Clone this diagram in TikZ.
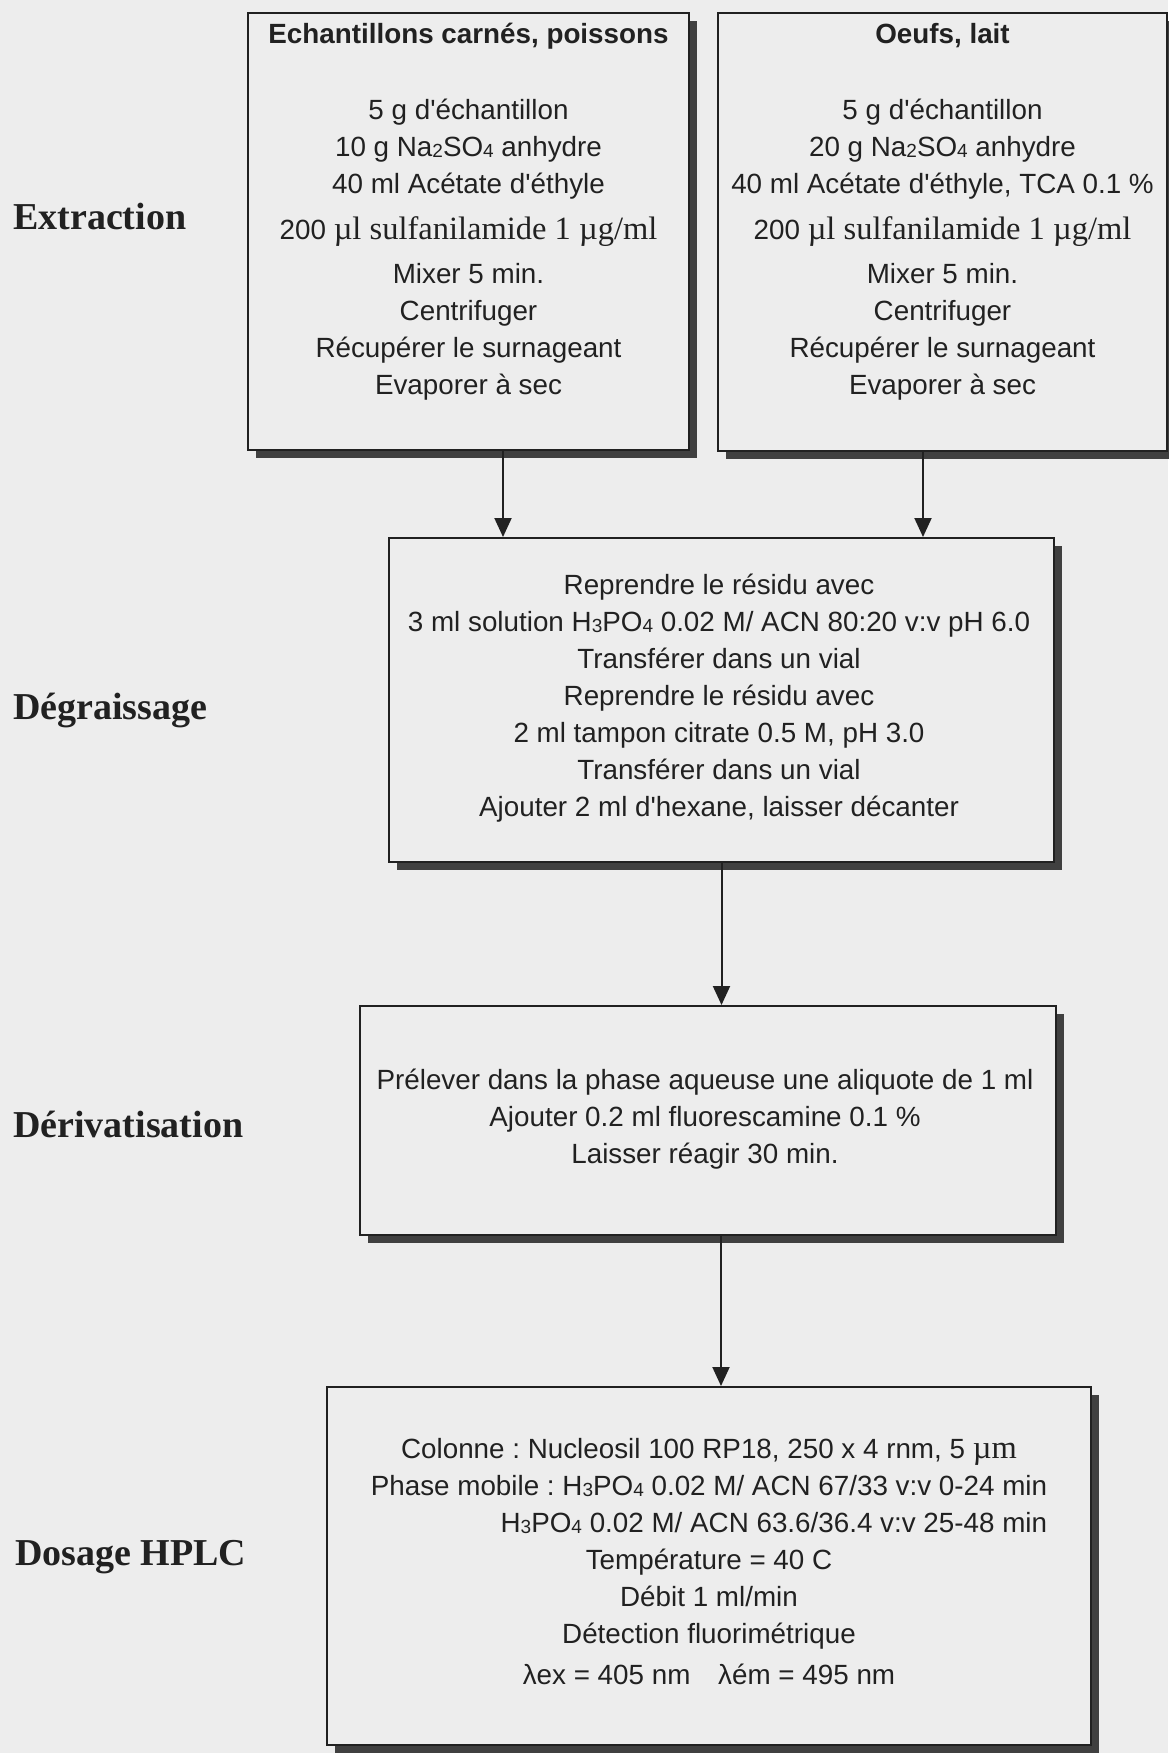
\documentclass[tikz,border=0pt]{standalone}
\usepackage{fontspec}
\usepackage{calc}
\setmainfont{Liberation Sans}
\newfontfamily\tms{Liberation Serif}
\usetikzlibrary{arrows.meta,shadows}
\definecolor{paper}{gray}{0.93}
\definecolor{ink}{gray}{0.13}
\newcommand{\ind}[1]{\raisebox{-1pt}{\fontsize{19}{19}\selectfont #1}}
\newcommand{\sym}[1]{{\tms\fontsize{32.5}{37}\selectfont #1}}
\newcommand{\ap}{\textquotesingle}
\frenchspacing

\begin{document}
\begin{tikzpicture}[x=1pt,y=-1pt,
  box/.style={draw=ink,line width=2pt,fill=paper,
    drop shadow={shadow xshift=8pt,shadow yshift=-8pt,opacity=1,fill=black!75}},
  txt/.style={align=center,inner sep=0pt,text=ink,font=\fontsize{27.8}{37}\selectfont},
  stage/.style={anchor=base west,inner sep=0pt,text=ink,font=\tms\bfseries\fontsize{38}{40}\selectfont},
  arr/.style={draw=ink,line width=2pt,-{Triangle[width=17pt,length=19pt]}}]
\fill [paper] (0,0) rectangle (1168,1753);
\useasboundingbox (0,0) rectangle (1168,1753);

\node [box,minimum width=441pt,minimum height=437pt] (carnes) at (468.5,231.5) {};
\node [box,minimum width=449pt,minimum height=438pt] (oeufs) at (942.5,232) {};
\node [box,minimum width=665pt,minimum height=324pt] (degraiss) at (721.5,700) {};
\node [box,minimum width=696pt,minimum height=229pt] (derivat) at (708,1120.5) {};
\node [box,minimum width=764pt,minimum height=358pt] (dosage) at (709,1566) {};

\node [stage] (lextr) at (13,229) {Extraction};
\node [stage] (ldegr) at (13,719) {Dégraissage};
\node [stage] (lderiv) at (13,1137) {Dérivatisation};
\node [stage] (ldos) at (15,1565) {Dosage HPLC};

\node [txt] (carnestxt) at (468.5,211.5) {{\bfseries Echantillons carnés, poissons}\\[39pt]
5 g d\ap échantillon\\
10 g Na\ind2SO\ind4 anhydre\\
40 ml Acétate d\ap éthyle\\[9pt]
200 \sym{µl sulfanilamide 1 µg/ml}\\[7pt]
Mixer 5 min.\\
Centrifuger\\
Récupérer le surnageant\\
Evaporer à sec};
\node [txt] (oeufstxt) at (942.5,211.5) {{\bfseries Oeufs, lait}\\[39pt]
5 g d\ap échantillon\\
20 g Na\ind2SO\ind4 anhydre\\
40 ml Acétate d\ap éthyle, TCA 0.1 \%\\[9pt]
200 \sym{µl sulfanilamide 1 µg/ml}\\[7pt]
Mixer 5 min.\\
Centrifuger\\
Récupérer le surnageant\\
Evaporer à sec};
\node [txt] (degrtxt) at (719,698) {Reprendre le résidu avec\\
3 ml solution H\ind3PO\ind4 0.02 M/ ACN 80:20 v:v pH 6.0\\
Transférer dans un vial\\
Reprendre le résidu avec\\
2 ml tampon citrate 0.5 M, pH 3.0\\
Transférer dans un vial\\
Ajouter 2 ml d\ap hexane, laisser décanter};
\node [txt] (derivtxt) at (705,1119) {Prélever dans la phase aqueuse une aliquote de 1 ml\\
Ajouter 0.2 ml fluorescamine 0.1 \%\\
Laisser réagir 30 min.};
\node [txt] (dosagetxt) at (709,1562) {Colonne : Nucleosil 100 RP18, 250 x 4 rnm, 5 \sym{µm}\\
Phase mobile : H\ind3PO\ind4 0.02 M/ ACN 67/33 v:v 0-24 min\\
\makebox[\widthof{Phase mobile : H\ind3PO\ind4 0.02 M/ ACN 67/33 v:v 0-24 min}][r]{H\ind3PO\ind4 0.02 M/ ACN 63.6/36.4 v:v 25-48 min}\\
Température = 40 C\\
Débit 1 ml/min\\
Détection fluorimétrique\\[4pt]
λex = 405 nm\quad λém = 495 nm};

\draw [arr] ([xshift=34.5pt]carnes.south) -- ([xshift=34.5pt]carnes.south |- degraiss.north);
\draw [arr] ([xshift=-19.5pt]oeufs.south) -- ([xshift=-19.5pt]oeufs.south |- degraiss.north);
\draw [arr] (degraiss.south) -- (degraiss.south |- derivat.north);
\draw [arr] ([xshift=13pt]derivat.south) -- ([xshift=13pt]derivat.south |- dosage.north);
\end{tikzpicture}
\end{document}
